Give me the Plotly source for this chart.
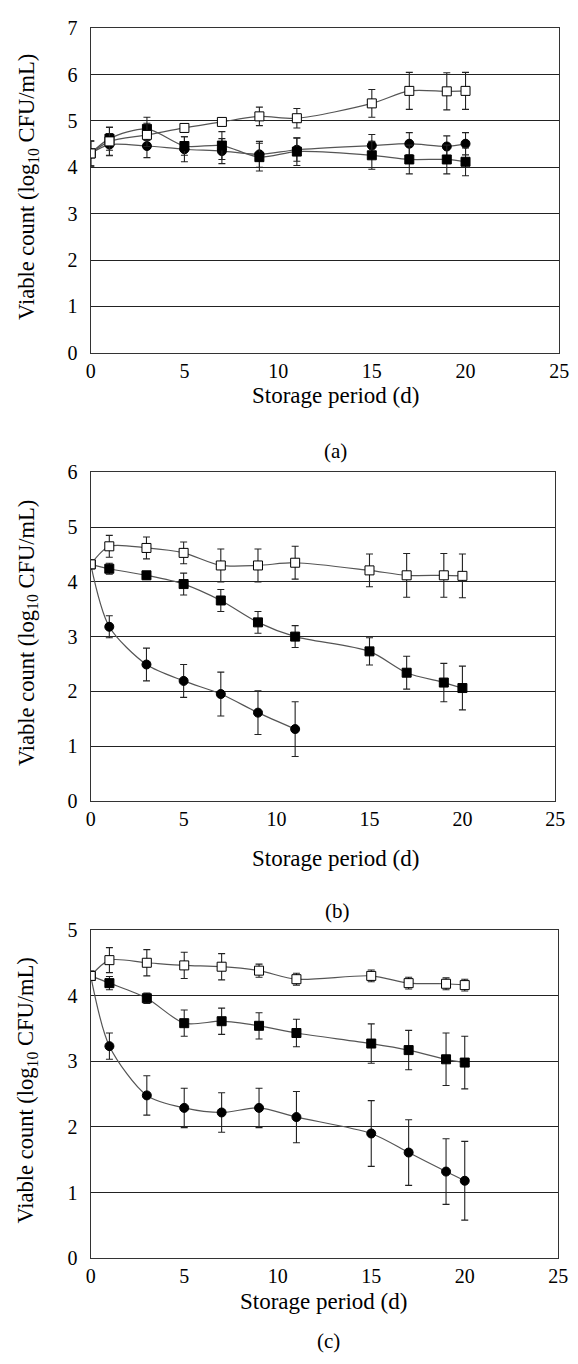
import plotly.graph_objects as go

# ---------------- data ----------------
days = [0, 1, 3, 5, 7, 9, 11, 15, 17, 19, 20]
days_short = [0, 1, 3, 5, 7, 9, 11]
x_ticks = [0, 5, 10, 15, 20, 25]
x_tick_labels = ["0", "5", "10", "15", "20", "25"]

# panel (a)
a_open = [4.30, 4.56, 4.70, 4.85, 4.98, 5.10, 5.06, 5.38, 5.65, 5.64, 5.65]
a_open_err = [0.27, 0.30, 0.25, 0.05, 0.05, 0.20, 0.21, 0.30, 0.40, 0.40, 0.40]
a_sq = [4.30, 4.62, 4.83, 4.46, 4.47, 4.22, 4.34, 4.26, 4.17, 4.17, 4.12]
a_sq_err = [0.27, 0.25, 0.25, 0.20, 0.30, 0.30, 0.30, 0.30, 0.31, 0.31, 0.30]
a_ci = [4.30, 4.49, 4.46, 4.39, 4.35, 4.28, 4.38, 4.47, 4.51, 4.45, 4.51]
a_ci_err = [0.27, 0.24, 0.25, 0.27, 0.27, 0.28, 0.25, 0.24, 0.24, 0.23, 0.24]

# panel (b)
b_open = [4.32, 4.65, 4.62, 4.53, 4.30, 4.30, 4.35, 4.21, 4.12, 4.12, 4.11]
b_open_err = [0.05, 0.20, 0.20, 0.20, 0.30, 0.30, 0.30, 0.30, 0.40, 0.40, 0.40]
b_sq = [4.32, 4.24, 4.12, 3.96, 3.66, 3.26, 3.00, 2.73, 2.34, 2.16, 2.06]
b_sq_err = [0.05, 0.10, 0.07, 0.20, 0.20, 0.20, 0.20, 0.25, 0.30, 0.35, 0.40]
b_ci = [4.32, 3.18, 2.49, 2.19, 1.95, 1.61, 1.31]
b_ci_err = [0.05, 0.20, 0.30, 0.30, 0.40, 0.40, 0.50]

# panel (c)
c_open = [4.30, 4.54, 4.50, 4.46, 4.44, 4.38, 4.25, 4.30, 4.19, 4.18, 4.16]
c_open_err = [0.07, 0.19, 0.20, 0.20, 0.20, 0.10, 0.09, 0.09, 0.09, 0.09, 0.09]
c_sq = [4.30, 4.19, 3.96, 3.58, 3.61, 3.54, 3.43, 3.27, 3.17, 3.03, 2.98]
c_sq_err = [0.07, 0.10, 0.08, 0.20, 0.20, 0.20, 0.21, 0.30, 0.30, 0.40, 0.40]
c_ci = [4.30, 3.23, 2.48, 2.29, 2.22, 2.29, 2.15, 1.90, 1.61, 1.32, 1.18]
c_ci_err = [0.07, 0.20, 0.30, 0.30, 0.30, 0.30, 0.39, 0.50, 0.50, 0.50, 0.60]

panel_labels = ["(a)", "(b)", "(c)"]
y_ranges = [7, 6, 5]
x_title = "Storage period (d)"
y_title = "Viable count (log<sub>10</sub> CFU/mL)"

# ---------------- layout geometry (pixels) ----------------
W, H = 578, 1364
FONT = "Liberation Serif, Times New Roman, DejaVu Serif, serif"
panels_px = [  # (x0, x1, ytop, ybottom)
    (88, 569, 17.6, 347.3),
    (88, 565, 469.0, 802.7),
    (88, 568, 934.0, 1267.7),
]
xtitle_px = [(339, 391), (339, 861), (327, 1312)]
label_px = [(339, 447), (341, 915), (332, 1352)]

fig = go.Figure()

series = [
    [(days, a_ci, a_ci_err, "circle"), (days, a_sq, a_sq_err, "square"), (days, a_open, a_open_err, "open")],
    [(days_short, b_ci, b_ci_err, "circle"), (days, b_sq, b_sq_err, "square"), (days, b_open, b_open_err, "open")],
    [(days, c_ci, c_ci_err, "circle"), (days, c_sq, c_sq_err, "square"), (days, c_open, c_open_err, "open")],
]

for i, panel in enumerate(series):
    xa = "x" if i == 0 else f"x{i+1}"
    ya = "y" if i == 0 else f"y{i+1}"
    for xs, ys, errs, kind in panel:
        if kind == "circle":
            marker = dict(symbol="circle", size=9, color="black", line=dict(color="black", width=1))
        elif kind == "square":
            marker = dict(symbol="square", size=9, color="black", line=dict(color="black", width=1))
        else:
            marker = dict(symbol="square", size=9, color="white", line=dict(color="black", width=1))
        fig.add_trace(go.Scatter(
            x=xs, y=ys, xaxis=xa, yaxis=ya, mode="lines+markers",
            line=dict(color="#555555", width=1.2, shape="spline", smoothing=0.8),
            marker=marker,
            error_y=dict(type="data", array=errs, visible=True, color="#222222", thickness=1.1, width=3.5),
            showlegend=False, hoverinfo="skip",
        ))

layout = dict(
    width=W, height=H, margin=dict(l=0, r=0, t=0, b=0),
    paper_bgcolor="white", plot_bgcolor="white",
    font=dict(family=FONT, size=20, color="black"),
    showlegend=False,
)
annotations = []
for i, (x0, x1, yt, yb) in enumerate(panels_px):
    sfx = "" if i == 0 else str(i + 1)
    layout["xaxis" + sfx] = dict(
        domain=[x0 / W, x1 / W], anchor="y" + sfx, range=[0, 25],
        tickvals=x_ticks, ticktext=x_tick_labels, ticks="",
        showgrid=False, zeroline=False, showline=True, mirror=True,
        linecolor="#333333", linewidth=1.2, ticklabelstandoff=0,
        tickfont=dict(family=FONT, size=20, color="black"),
    )
    layout["yaxis" + sfx] = dict(
        domain=[1 - yb / H, 1 - yt / H], anchor="x" + sfx, range=[0, y_ranges[i]],
        dtick=1, ticks="", showgrid=True, gridcolor="#222222", gridwidth=1.2,
        zeroline=False, showline=True, mirror=True, linecolor="#333333", linewidth=1.2,
        ticklabelstandoff=8, tickfont=dict(family=FONT, size=20, color="black"),
    )
    tx, ty = xtitle_px[i]
    annotations.append(dict(text=x_title, x=tx / W, y=1 - ty / H, xref="paper", yref="paper",
                            showarrow=False, xanchor="center", yanchor="middle",
                            font=dict(family=FONT, size=23, color="black")))
    annotations.append(dict(text=y_title, x=23 / W, y=1 - ((yt + yb) / 2 - 4) / H, xref="paper", yref="paper",
                            showarrow=False, xanchor="center", yanchor="middle", textangle=-90,
                            font=dict(family=FONT, size=22.5, color="black")))
    lx, ly = label_px[i]
    annotations.append(dict(text=panel_labels[i], x=lx / W, y=1 - ly / H, xref="paper", yref="paper",
                            showarrow=False, xanchor="center", yanchor="middle",
                            font=dict(family=FONT, size=21, color="black")))
layout["annotations"] = annotations
fig.update_layout(**layout)

fig.write_html("out.html", config={"displayModeBar": False},
               post_script="document.body.style.margin='0';")
